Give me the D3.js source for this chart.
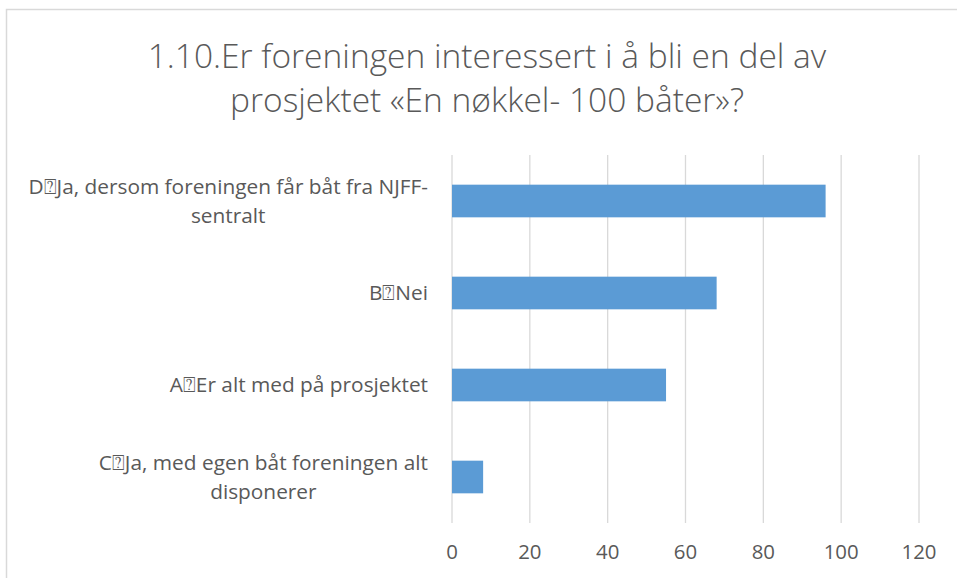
<!DOCTYPE html>
<html>
<head>
<meta charset="utf-8">
<script src="https://cdn.jsdelivr.net/npm/d3@7"></script>
<style>
  html, body { margin: 0; padding: 0; background: #fff; }
  svg { display: block; }
  text { font-family: "Open Sans", "DejaVu Sans", sans-serif; fill: #595959; }
</style>
</head>
<body>
<svg width="957" height="578"></svg>
<script>
// chart data
const titleLines = ['1.10.Er foreningen interessert i å bli en del av', 'prosjektet «En nøkkel- 100 båter»?'];
const categories = [
  'D\u2370Ja, dersom foreningen får båt fra NJFF-sentralt',
  'B\u2370Nei',
  'A\u2370Er alt med på prosjektet',
  'C\u2370Ja, med egen båt foreningen alt disponerer'
];
const values = [96, 68, 55, 8];
const xTicks = [0, 20, 40, 60, 80, 100, 120];

const svg = d3.select('svg');
const width = +svg.attr('width');
const height = +svg.attr('height');

const margin = { left: 452, right: 38, top: 155, bottom: 55 };

// chart border (runs off the right/bottom edges)
svg.append('rect')
  .attr('x', 6.5).attr('y', 9.5)
  .attr('width', width + 20).attr('height', height + 20)
  .attr('fill', 'none')
  .attr('stroke', '#d9d9d9')
  .attr('stroke-width', 1.5);

const x = d3.scaleLinear()
  .domain([0, 120])
  .range([margin.left, width - margin.right]);

const y = d3.scaleBand()
  .domain(categories)
  .range([margin.top, height - margin.bottom])
  .paddingInner(0.645)
  .paddingOuter(0.3225);

// measure helper: fit a font size so a string gets a target width
function fitSize(str, target, base, weight) {
  const t = svg.append('text').attr('font-size', base).attr('font-weight', weight || 400).text(str);
  const w = t.node().getComputedTextLength();
  t.remove();
  return base * target / w;
}

// gridlines
svg.append('g')
  .selectAll('line')
  .data(xTicks)
  .join('line')
  .attr('x1', d => x(d)).attr('x2', d => x(d))
  .attr('y1', margin.top).attr('y2', height - margin.bottom)
  .attr('stroke', '#d9d9d9')
  .attr('stroke-width', 1.3);

// bars
svg.append('g')
  .selectAll('rect')
  .data(categories)
  .join('rect')
  .attr('x', x(0))
  .attr('y', d => y(d))
  .attr('height', y.bandwidth())
  .attr('width', (d, i) => x(values[i]) - x(0))
  .attr('fill', '#5b9bd5');

// x tick labels
const tickSize = fitSize('120', 35, 20);
svg.append('g')
  .selectAll('text')
  .data(xTicks)
  .join('text')
  .attr('x', d => x(d))
  .attr('y', 559)
  .attr('text-anchor', 'middle')
  .attr('font-size', tickSize)
  .text(d => d);

// category labels with wrapping
const labelSize = fitSize('A\u2370Er alt med på prosjektet', 258, 20);
const labelRight = 428;
const maxLabelW = 412;

function measure(str) {
  const t = svg.append('text').attr('font-size', labelSize).text(str);
  const w = t.node().getComputedTextLength();
  t.remove();
  return w;
}

function wrap(str) {
  const tokens = str.match(/[^\s-]+-?|\s+/g).filter(s => s.trim() !== '');
  const lines = [];
  let cur = '';
  tokens.forEach(tok => {
    const sep = (cur === '' || cur.endsWith('-')) ? '' : ' ';
    const test = cur + sep + tok;
    if (cur !== '' && measure(test) > maxLabelW) {
      lines.push(cur);
      cur = tok;
    } else {
      cur = test;
    }
  });
  if (cur) lines.push(cur);
  return lines;
}

const lineH = labelSize * 1.38;
categories.forEach(c => {
  const lines = wrap(c);
  const blockW = d3.max(lines, measure);
  const cx = labelRight - blockW / 2;
  const cy = y(c) + y.bandwidth() / 2;
  const t = svg.append('text')
    .attr('text-anchor', 'middle')
    .attr('font-size', labelSize);
  lines.forEach((ln, i) => {
    t.append('tspan')
      .attr('x', cx)
      .attr('y', cy + (i - (lines.length - 1) / 2) * lineH + labelSize * 0.35)
      .text(ln);
  });
});

// title (light weight, like the original)
const titleSize = fitSize(titleLines[0], 679, 30, 300);
svg.append('text')
  .attr('text-anchor', 'middle')
  .attr('font-size', titleSize)
  .attr('font-weight', 300)
  .selectAll('tspan')
  .data(titleLines)
  .join('tspan')
  .attr('x', 487)
  .attr('y', (d, i) => 68 + i * 44)
  .text(d => d);
</script>
</body>
</html>
